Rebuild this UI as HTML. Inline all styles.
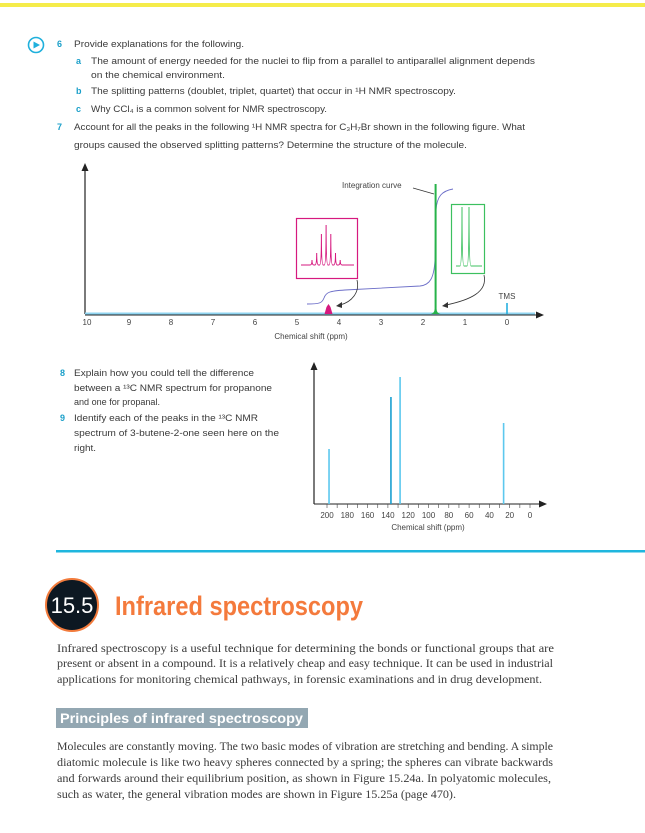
<!DOCTYPE html>
<html><head><meta charset="utf-8">
<style>
html,body{margin:0;padding:0;background:#fff;}
svg{display:block;}
.q{font-family:"Liberation Sans",sans-serif;font-size:9px;fill:#3a3a3a;}
.n{font-family:"Liberation Sans",sans-serif;font-size:9px;font-weight:bold;fill:#1a9fc9;}
.p{font-family:"Liberation Serif",serif;font-size:11.2px;fill:#3a3a3a;}
.t{font-family:"Liberation Sans",sans-serif;font-size:8px;fill:#444;}
</style></head>
<body>
<svg id="page" width="645" height="833" viewBox="0 0 645 833" xmlns="http://www.w3.org/2000/svg">
<rect x="0" y="3" width="645" height="4" fill="#f5ec4a"/>

<g>
<circle cx="36" cy="45" r="7.5" fill="#fff" stroke="#1fb0dc" stroke-width="1.6"/>
<path d="M33.5 41.5 L40 45 L33.5 48.5Z" fill="#1fb0dc"/>
</g>

<g>
<text class="n" x="57" y="47">6</text>
<text class="q" x="74" y="47" textLength="170" lengthAdjust="spacingAndGlyphs">Provide explanations for the following.</text>
<text class="n" x="76" y="64">a</text>
<text class="q" x="91" y="64" textLength="444" lengthAdjust="spacingAndGlyphs">The amount of energy needed for the nuclei to flip from a parallel to antiparallel alignment depends</text>
<text class="q" x="91" y="78" textLength="134" lengthAdjust="spacingAndGlyphs">on the chemical environment.</text>
<text class="n" x="76" y="94">b</text>
<text class="q" x="91" y="94" textLength="365" lengthAdjust="spacingAndGlyphs">The splitting patterns (doublet, triplet, quartet) that occur in ¹H NMR spectroscopy.</text>
<text class="n" x="76" y="112">c</text>
<text class="q" x="91" y="112" textLength="236" lengthAdjust="spacingAndGlyphs">Why CCl₄ is a common solvent for NMR spectroscopy.</text>
</g>
<g>
<text class="n" x="57" y="130">7</text>
<text class="q" x="74" y="130" textLength="451" lengthAdjust="spacingAndGlyphs">Account for all the peaks in the following ¹H NMR spectra for C₃H₇Br shown in the following figure. What</text>
<text class="q" x="74" y="148" textLength="393" lengthAdjust="spacingAndGlyphs">groups caused the observed splitting patterns? Determine the structure of the molecule.</text>
</g>

<g id="nmr1"></g>

<g>
<text class="n" x="60" y="376">8</text>
<text class="q" x="74" y="376" textLength="180" lengthAdjust="spacingAndGlyphs">Explain how you could tell the difference</text>
<text class="q" x="74" y="391" textLength="198" lengthAdjust="spacingAndGlyphs">between a ¹³C NMR spectrum for propanone</text>
<text class="q" x="74" y="405" textLength="86" lengthAdjust="spacingAndGlyphs">and one for propanal.</text>
</g>
<g>
<text class="n" x="60" y="421">9</text>
<text class="q" x="74" y="421" textLength="184" lengthAdjust="spacingAndGlyphs">Identify each of the peaks in the ¹³C NMR</text>
<text class="q" x="74" y="436" textLength="205" lengthAdjust="spacingAndGlyphs">spectrum of 3-butene-2-one seen here on the</text>
<text class="q" x="74" y="451" textLength="22" lengthAdjust="spacingAndGlyphs">right.</text>
</g>

<g id="nmr2"></g>

<rect x="56" y="550" width="589" height="2.5" fill="#1fb6de"/>

<g>
<circle cx="72" cy="605" r="26" fill="#0d1822" stroke="#f27b3c" stroke-width="2"/>
<text x="72" y="613" text-anchor="middle" font-family="Liberation Sans,sans-serif" font-size="22" fill="#fff">15.5</text>
</g>
<text x="115" y="615" font-family="Liberation Sans,sans-serif" font-size="27" font-weight="bold" fill="#f47a3c" textLength="248" lengthAdjust="spacingAndGlyphs">Infrared spectroscopy</text>

<g>
<text class="p" x="57" y="652" textLength="497" lengthAdjust="spacingAndGlyphs">Infrared spectroscopy is a useful technique for determining the bonds or functional groups that are</text>
<text class="p" x="57" y="667" textLength="496" lengthAdjust="spacingAndGlyphs">present or absent in a compound. It is a relatively cheap and easy technique. It can be used in industrial</text>
<text class="p" x="57" y="683" textLength="485" lengthAdjust="spacingAndGlyphs">applications for monitoring chemical pathways, in forensic examinations and in drug development.</text>
</g>

<g>
<rect x="56" y="708" width="252" height="20" fill="#93a7b2"/>
<text x="60" y="723" font-family="Liberation Sans,sans-serif" font-size="14" font-weight="bold" fill="#fff" textLength="243" lengthAdjust="spacingAndGlyphs">Principles of infrared spectroscopy</text>
</g>

<g>
<text class="p" x="57" y="750" textLength="496" lengthAdjust="spacingAndGlyphs">Molecules are constantly moving. The two basic modes of vibration are stretching and bending. A simple</text>
<text class="p" x="57" y="766" textLength="496" lengthAdjust="spacingAndGlyphs">diatomic molecule is like two heavy spheres connected by a spring; the spheres can vibrate backwards</text>
<text class="p" x="57" y="782" textLength="494" lengthAdjust="spacingAndGlyphs">and forwards around their equilibrium position, as shown in Figure 15.24a. In polyatomic molecules,</text>
<text class="p" x="57" y="798" textLength="399" lengthAdjust="spacingAndGlyphs">such as water, the general vibration modes are shown in Figure 15.25a (page 470).</text>
</g>
</svg>

<script>
// ---- 1H NMR data ----
var hTicks = [10,9,8,7,6,5,4,3,2,1,0];
var hPeakShifts = [4.25, 1.7, 0];
var hPeakHeights = [10, 130, 11];
var hPeakColors = ['#d6197f', '#27b34a', '#27b0e0'];
var quintetHeights = [5, 12, 31, 40, 31, 12, 5];
var doubletHeights = [59, 59];
// ---- 13C NMR data ----
var cTicks = [200,180,160,140,120,100,80,60,40,20,0];
var cPeakShifts = [198, 137, 128, 26];
var cPeakHeights = [55, 107, 127, 81];

var NS = 'http://www.w3.org/2000/svg';
function mk(parent, tag, attrs){
  var e = document.createElementNS(NS, tag);
  for (var k in attrs) e.setAttribute(k, attrs[k]);
  parent.appendChild(e);
  return e;
}

var g1 = document.getElementById('nmr1');
function hx(ppm){ return 87 + (10 - ppm) * 42; }
function hy(h){ return 314 - h; }
var ax = mk(g1,'path',{d:'M85 314 V168',stroke:'#222','stroke-width':1.2,fill:'none'});


mk(g1,'path',{d:'M81.5 171 L85 163 L88.5 171Z',fill:'#222'});
var base = mk(g1,'rect',{x:85,y:312.5,width:450,height:2.5,fill:'#8fd4f0'});


var xa = mk(g1,'path',{d:'M85 315 H537',stroke:'#222','stroke-width':1,fill:'none'});


mk(g1,'path',{d:'M536 311.5 L544 315 L536 318.5Z',fill:'#222'});
hTicks.forEach(function(t){
  var tx = mk(g1,'text',{x:hx(t),y:325,'text-anchor':'middle','class':'t'});
  tx.textContent = t;
  
  
});
var xt = mk(g1,'text',{x:311,y:339,'text-anchor':'middle','class':'t','font-size':'8.5'});
xt.textContent = 'Chemical shift (ppm)';



var ic = mk(g1,'path',{d:'M307 304 C320 304 322 303 324 298 C326 292 330 291 345 290 L420 286 C430 285 434 278 435 260 L436 210 C437 196 442 191 453 189',stroke:'#6c6ec8','stroke-width':0.9,fill:'none'});



hPeakShifts.forEach(function(s,i){
  var x = hx(s), top = hy(hPeakHeights[i]);
  var p;
  if (i === 0) p = mk(g1,'path',{d:'M'+(x-4)+' 314 L'+(x-2)+' '+(top+3)+' L'+x+' '+top+' L'+(x+2)+' '+(top+3)+' L'+(x+4)+' 314Z',fill:hPeakColors[i]});
  else if (i === 1) p = mk(g1,'path',{d:'M'+(x-5)+' 314 Q'+(x-1)+' 313 '+(x-1)+' 309 L'+(x-1)+' '+top+' L'+(x+1)+' '+top+' L'+(x+1)+' 309 Q'+(x+1)+' 313 '+(x+5)+' 314Z',fill:hPeakColors[i]});
  else p = mk(g1,'rect',{x:x-0.8,y:top,width:1.6,height:hPeakHeights[i],fill:hPeakColors[i]});
  
  
});
var tms = mk(g1,'text',{x:hx(0),y:299,'text-anchor':'middle','class':'t','font-size':'7'});
tms.textContent = 'TMS';



var il = mk(g1,'text',{x:342,y:188,'class':'t','font-size':'7.5'});
il.textContent = 'Integration curve';


mk(g1,'path',{d:'M413 188 L434 194',stroke:'#333','stroke-width':0.7});

var mb = mk(g1,'rect',{x:296.5,y:218.5,width:61,height:60,fill:'#fff',stroke:'#d6197f','stroke-width':1.2});


var qd = 'M301 265 ';
quintetHeights.forEach(function(h,i){
  var x = 312 + i*4.7;
  qd += 'L'+(x-1.8)+' 265 Q'+x+' 265 '+x+' '+(265-h)+' Q'+x+' 265 '+(x+1.8)+' 265 ';
});
qd += 'L354 265';
var qp = mk(g1,'path',{d:qd,stroke:'#d6197f','stroke-width':1,fill:'none'});



var gb = mk(g1,'rect',{x:451.5,y:204.5,width:33,height:69,fill:'#fff',stroke:'#3cc05f','stroke-width':1.2});


var dd = 'M456 266 ';
doubletHeights.forEach(function(h,i){
  var x = 462 + i*7;
  dd += 'L'+(x-2)+' 266 Q'+x+' 266 '+x+' '+(266-h)+' Q'+x+' 266 '+(x+2)+' 266 ';
});
dd += 'L482 266';
var dp = mk(g1,'path',{d:dd,stroke:'#3cc05f','stroke-width':1,fill:'none'});



var a1 = mk(g1,'path',{d:'M357 280 C360 292 352 302 340 305',stroke:'#333','stroke-width':0.8,fill:'none'});


mk(g1,'path',{d:'M336 306 L342 302 L342 308Z',fill:'#333'});
var a2 = mk(g1,'path',{d:'M484 275 C488 292 470 300 446 305',stroke:'#333','stroke-width':0.8,fill:'none'});


mk(g1,'path',{d:'M442 306 L448 302 L448 308Z',fill:'#333'});

var g2 = document.getElementById('nmr2');
function cx(ppm){ return 327 + (200 - ppm) * 1.015; }
function cy(h){ return 504 - h; }
var ay2 = mk(g2,'path',{d:'M314 504 V367',stroke:'#222','stroke-width':1.2,fill:'none'});


mk(g2,'path',{d:'M310.5 370 L314 362 L317.5 370Z',fill:'#222'});
var ax2 = mk(g2,'path',{d:'M314 504 H540',stroke:'#222','stroke-width':1,fill:'none'});


mk(g2,'path',{d:'M539 500.5 L547 504 L539 507.5Z',fill:'#222'});
cTicks.forEach(function(t){
  mk(g2,'path',{d:'M'+cx(t)+' 504 V508',stroke:'#444','stroke-width':0.6});
  if (t !== 0) mk(g2,'path',{d:'M'+cx(t-10)+' 504 V508',stroke:'#444','stroke-width':0.6});
  var tx = mk(g2,'text',{x:cx(t),y:518,'text-anchor':'middle','class':'t','font-size':'7.5'});
  tx.textContent = t;
  
  
});
var xt2 = mk(g2,'text',{x:428,y:530,'text-anchor':'middle','class':'t','font-size':'8.5'});
xt2.textContent = 'Chemical shift (ppm)';


cPeakShifts.forEach(function(s,i){
  var r = mk(g2,'rect',{x:cx(s)-0.8,y:cy(cPeakHeights[i]),width:1.6,height:cPeakHeights[i],fill:(i===1?'#1a9fd0':'#5cc8ee')});
  
  
});
</script>
</body></html>
